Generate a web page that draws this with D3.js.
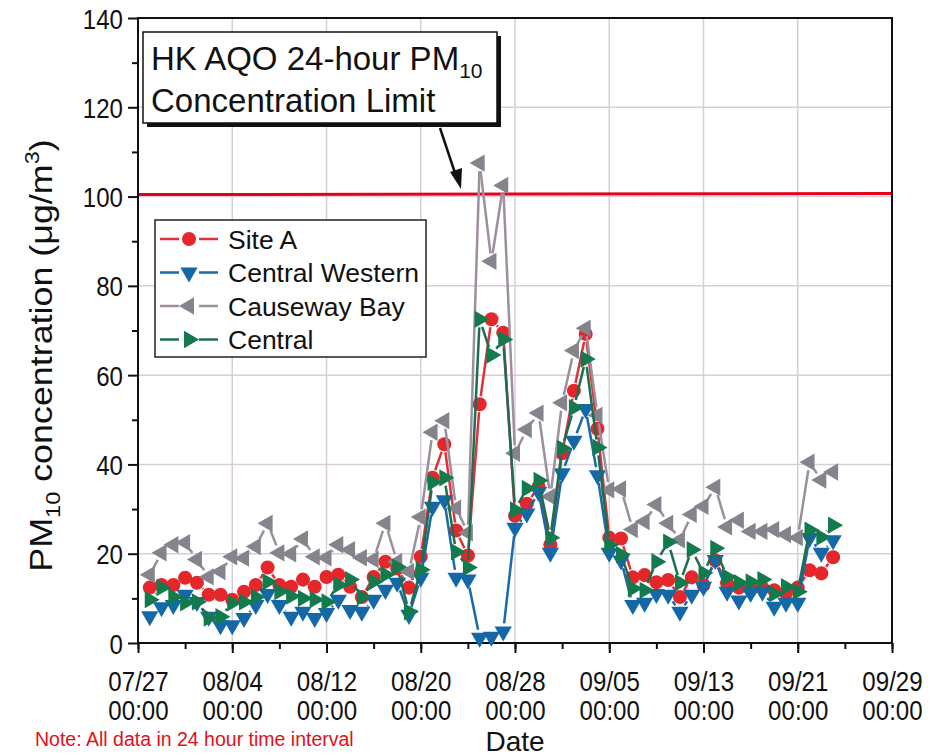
<!DOCTYPE html>
<html>
<head>
<meta charset="utf-8">
<title>PM10 concentration</title>
<script src="https://cdn.jsdelivr.net/npm/d3@7"></script>
<style>
  body { margin: 0; background: #fff; }
  text { font-family: "Liberation Sans", Arial, sans-serif; fill: #111; }
  .tick-label { font-size: 28px; }
  .grid line { stroke: #d8cdd8; stroke-width: 1.5; }
</style>
</head>
<body>
<div class="container"></div>
<script>
'use strict';
var width = 940, height = 756;
var margin = {top: 18, right: 48, bottom: 113, left: 138};

// daily 24-h values, 07/28 .. 09/24
var days = d3.timeDay.range(new Date(2013, 6, 28), new Date(2013, 8, 25));

var siteA = [12.4, 13, 13, 14.6, 13.5, 10.8, 10.8, 9.7, 11.5, 13, 16.9, 13, 12.6, 14.2, 12.6, 14.8, 15.3, 12.6, 10.3, 14.8,
  18.2, 16.7, 12.4, 19.3, 37, 44.5, 25.2, 19.6, 53.5, 72.5, 69.5, 28.5, 31.2, 35, 22, 42.5, 56.5, 69.2, 48, 23.6,
  23.4, 14.7, 15.2, 13.6, 14.1, 10.3, 14.7, 13, 18.5, 13.4, 12.4, 12, 12.4, 11.8, 11.2, 12.4, 16.3, 15.6, 19.2];
var centralWestern = [6, 8, 8.5, 10.8, 9.2, 5.9, 4, 4, 5.6, 8.5, 11, 8.5, 5.9, 7, 5.6, 6.7, 9.7, 7.4, 7, 9.7,
  11.9, 13.5, 6.3, 14.6, 30.5, 32, 14.6, 14.2, 1.2, 1.4, 2.6, 25.8, 29, 33.8, 20.2, 38, 45.3, 52.4, 37.6, 20.2,
  18.5, 8.5, 9, 11, 10.8, 7, 10.8, 12.6, 18.6, 11.5, 9.5, 11.2, 11.5, 8.1, 9, 9, 23.5, 20.2, 23];
var causewayBay = [15.3, 20.2, 22, 22.5, 18.7, 14.8, 16, 19.3, 19, 21.6, 26.8, 20.2, 20, 23.3, 19.3, 19.1, 22, 20.9, 19.1, 18.7,
  26.8, 18.2, 16, 28.2, 47.2, 49.8, 30.2, 24.7, 107.5, 85.5, 102.5, 42.5, 47.8, 51.5, 32.8, 53.8, 65.5, 70.5, 51, 34.3,
  34.5, 25.4, 27.2, 31, 26.8, 23.1, 28.8, 30.6, 34.9, 26, 27.5, 25, 25, 25.4, 24.3, 23.6, 40.5, 36.5, 38.3];
var central = [9.7, 12.4, 10.3, 9, 9.2, 5.6, 5.9, 9, 9.2, 10.3, 13.7, 11.5, 10.5, 10, 9.7, 9.2, 13, 14.2, 10.3, 13.7,
  15.3, 17, 7, 16.4, 36, 37, 20.4, 16.9, 72.5, 64.5, 68, 29.8, 34.6, 36.4, 23.6, 43.6, 52.7, 63.6, 43.8, 22,
  19.8, 12.2, 11.8, 18.2, 22.6, 13.5, 20.9, 15.7, 21.2, 14.8, 13.5, 13.7, 14.2, 11, 12.6, 11.5, 25.3, 23.7, 26.4];

var seriesNames = ['Site A', 'Central Western', 'Causeway Bay', 'Central'];
var xTickLabels = ['07/27', '08/04', '08/12', '08/20', '08/28', '09/05', '09/13', '09/21', '09/29'];
var yTicks = [0, 20, 40, 60, 80, 100, 120, 140];
var limitValue = 100;

var series = [
  { name: seriesNames[0], values: siteA, color: '#e5262b', line: '#e0303a', shape: 'circle', rot: 0 },
  { name: seriesNames[1], values: centralWestern, color: '#1468a8', line: '#1a6aa8', shape: 'tri', rot: 180 },
  { name: seriesNames[2], values: causewayBay, color: '#85838c', line: '#9d8f9e', shape: 'tri', rot: -90 },
  { name: seriesNames[3], values: central, color: '#137a4e', line: '#1b6e50', shape: 'tri', rot: 90 }
];

var svg = d3.select('.container').append('svg')
  .attr('width', width).attr('height', height);

var x0 = new Date(2013, 6, 27), x1 = new Date(2013, 8, 29);
var x = d3.scaleTime().domain([x0, x1]).range([margin.left, width - margin.right]);
var y = d3.scaleLinear().domain([0, 140]).range([height - margin.bottom, margin.top]);

var xTicks = d3.range(9).map(function (k) { return d3.timeDay.offset(x0, 8 * k); });
var xMinor = d3.range(17).map(function (k) { return d3.timeDay.offset(x0, 4 * k); });

// grid
var grid = svg.append('g').attr('class', 'grid');
grid.selectAll('line.v').data(xTicks.slice(1, -1)).enter().append('line')
  .attr('x1', function (d) { return x(d); }).attr('x2', function (d) { return x(d); })
  .attr('y1', y(0)).attr('y2', y(140));
grid.selectAll('line.h').data(yTicks.slice(1, -1)).enter().append('line')
  .attr('y1', function (d) { return y(d); }).attr('y2', function (d) { return y(d); })
  .attr('x1', x(x0)).attr('x2', x(x1));

// limit line
svg.append('line')
  .attr('x1', x(x0)).attr('x2', x(x1))
  .attr('y1', y(limitValue) - 2).attr('y2', y(limitValue) - 3)
  .attr('stroke', '#e3001b').attr('stroke-width', 3);

// axes
var yAxis = d3.axisLeft(y).tickValues(yTicks).tickSize(10).tickFormat('');
var yMinorAxis = d3.axisLeft(y).tickValues(d3.range(10, 140, 20)).tickSize(6).tickFormat('');
var xAxis = d3.axisBottom(x).tickValues(xTicks).tickSize(10).tickFormat('');
var xMinorAxis = d3.axisBottom(x).tickValues(xMinor).tickSize(6).tickFormat('');

function styleAxis(g) {
  g.select('.domain').remove();
  g.selectAll('.tick line').attr('stroke', '#111').attr('stroke-width', 2);
}

svg.append('g').attr('transform', 'translate(' + margin.left + ',0)').call(yMinorAxis).call(styleAxis);
var gy = svg.append('g').attr('transform', 'translate(' + margin.left + ',0)').call(yAxis).call(styleAxis);
gy.selectAll('.tick').append('text').attr('class', 'tick-label')
  .attr('text-anchor', 'end').attr('dy', '0.36em')
  .attr('transform', 'translate(-15,0) scale(0.86,1)')
  .text(function (d) { return d; });

svg.append('g').attr('transform', 'translate(0,' + y(0) + ')').call(xMinorAxis).call(styleAxis);
var gx = svg.append('g').attr('transform', 'translate(0,' + y(0) + ')').call(xAxis).call(styleAxis);
gx.selectAll('.tick').each(function (d, i) {
  var t = d3.select(this).append('text').attr('class', 'tick-label').attr('text-anchor', 'middle')
    .attr('transform', 'scale(0.86,1)');
  t.append('tspan').attr('x', 0).attr('y', 48).text(xTickLabels[i]);
  t.append('tspan').attr('x', 0).attr('y', 77).text('00:00');
});

// frame
svg.append('rect')
  .attr('x', x(x0)).attr('y', y(140))
  .attr('width', x(x1) - x(x0)).attr('height', y(0) - y(140))
  .attr('fill', 'none').attr('stroke', '#111').attr('stroke-width', 2);

// series
function markerPath(s) {
  if (s.shape === 'circle') return d3.symbol(d3.symbolCircle, 155)();
  return d3.symbol(d3.symbolTriangle, 130)();
}

var gap = 8;
series.forEach(function (s) {
  var pts = s.values.map(function (v, i) { return [x(days[i]), y(v)]; });
  var g = svg.append('g');
  var segs = d3.pairs(pts).filter(function (p) {
    var dx = p[1][0] - p[0][0], dy = p[1][1] - p[0][1];
    return Math.sqrt(dx * dx + dy * dy) > 2 * gap;
  });
  g.selectAll('line').data(segs).enter().append('line')
    .each(function (p) {
      var dx = p[1][0] - p[0][0], dy = p[1][1] - p[0][1];
      var L = Math.sqrt(dx * dx + dy * dy), ux = dx / L, uy = dy / L;
      d3.select(this)
        .attr('x1', p[0][0] + ux * gap).attr('y1', p[0][1] + uy * gap)
        .attr('x2', p[1][0] - ux * gap).attr('y2', p[1][1] - uy * gap);
    })
    .attr('stroke', s.line).attr('stroke-width', 2.5);
  g.selectAll('path').data(pts).enter().append('path')
    .attr('d', markerPath(s))
    .attr('transform', function (p) { return 'translate(' + p[0] + ',' + p[1] + ') rotate(' + s.rot + ')'; })
    .attr('fill', s.color);
});

// legend
var legend = svg.append('g').attr('transform', 'translate(155,220)');
legend.append('rect').attr('width', 271).attr('height', 137)
  .attr('fill', '#fff').attr('stroke', '#222').attr('stroke-width', 1.5);
series.forEach(function (s, i) {
  var ly = 19 + i * 33.5;
  var e = legend.append('g').attr('transform', 'translate(0,' + ly + ')');
  e.append('line').attr('x1', 5).attr('x2', 24).attr('y1', 0).attr('y2', 0).attr('stroke', s.line).attr('stroke-width', 2.5);
  e.append('line').attr('x1', 44).attr('x2', 63).attr('y1', 0).attr('y2', 0).attr('stroke', s.line).attr('stroke-width', 2.5);
  e.append('path').attr('d', markerPath(s))
    .attr('transform', 'translate(34,0) rotate(' + s.rot + ')').attr('fill', s.color);
  e.append('text').attr('x', 73).attr('y', 9.5).attr('font-size', 26.5).text(s.name);
});

// annotation box
var ann = svg.append('g').attr('transform', 'translate(143,32)');
ann.append('rect').attr('x', 4).attr('y', 4).attr('width', 354).attr('height', 91).attr('fill', '#111');
ann.append('rect').attr('width', 354).attr('height', 91).attr('fill', '#fff').attr('stroke', '#111').attr('stroke-width', 1.5);
var t1 = ann.append('text').attr('x', 8).attr('y', 38).attr('font-size', 33);
t1.append('tspan').text('HK AQO 24-hour PM');
t1.append('tspan').attr('font-size', 21).attr('dy', 8).text('10');
ann.append('text').attr('x', 8).attr('y', 80).attr('font-size', 33).text('Concentration Limit');

// arrow
svg.append('line').attr('x1', 440).attr('y1', 128).attr('x2', 456).attr('y2', 176)
  .attr('stroke', '#111').attr('stroke-width', 2.5);
svg.append('path').attr('d', 'M461,189 L450,172 L462,168 Z').attr('fill', '#111');

// y title
var yt = svg.append('text').attr('transform', 'translate(52,' + ((y(0) + y(140)) / 2 + 25) + ') rotate(-90) scale(1.12,1)')
  .attr('text-anchor', 'middle').attr('font-size', 32);
yt.append('tspan').text('PM');
yt.append('tspan').attr('font-size', 21).attr('dy', 8).text('10');
yt.append('tspan').attr('dy', -8).text(' concentration (μg/m');
yt.append('tspan').attr('font-size', 21).attr('dy', -13).text('3');
yt.append('tspan').attr('dy', 13).text(')');

// x title
svg.append('text').attr('x', 515).attr('y', 751).attr('text-anchor', 'middle').attr('font-size', 28).text('Date');

// note
svg.append('text').attr('x', 35).attr('y', 746).attr('font-size', 19.5)
  .style('fill', '#e0101a').text('Note: All data in 24 hour time interval');
</script>
</body>
</html>
